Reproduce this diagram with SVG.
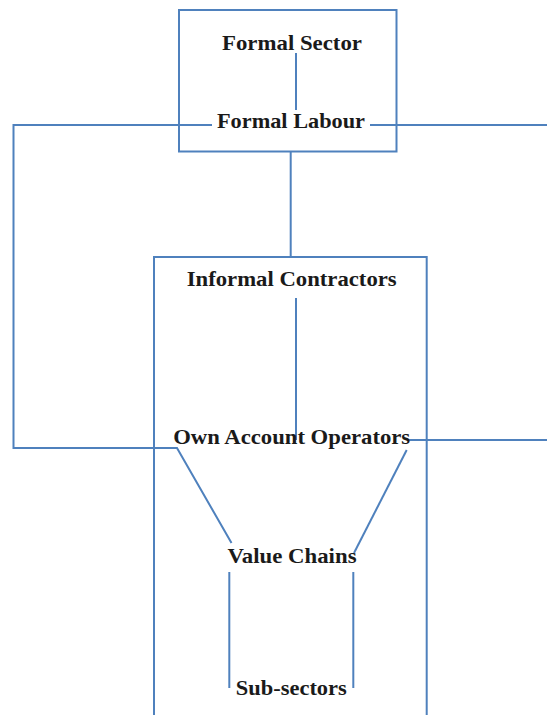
<svg xmlns="http://www.w3.org/2000/svg" width="547" height="715" viewBox="0 0 547 715">
<style>
.ln{fill:none;stroke:#4F81BD;stroke-width:2}
.t{font-family:"Liberation Serif","Times New Roman",serif;font-weight:bold;font-size:22px;fill:#1a1a1a;text-anchor:middle}
</style>
<rect width="547" height="715" fill="#ffffff"/>
<g id="connectors">
<path class="ln" d="M296,53 V110"/>
<path class="ln" d="M212,125 H13.5 V448 H177 L231.5,543"/>
<path class="ln" d="M370,125 H547"/>
<path class="ln" d="M290.7,152 V257"/>
<path class="ln" d="M296,298 V440"/>
<path class="ln" d="M408,440 H547"/>
<path class="ln" d="M406.7,450 L354,553"/>
<path class="ln" d="M229.3,572 V688"/>
<path class="ln" d="M353.3,572 V688"/>
</g>
<g id="formal-sector-box">
<rect class="ln" x="179" y="10" width="217.5" height="141.5"/>
</g>
<g id="informal-box">
<path class="ln" d="M154,715 V257 H426.7 V715"/>
</g>
<g id="formal-sector"><text class="t" x="292" y="50" textLength="140" lengthAdjust="spacingAndGlyphs">Formal Sector</text></g>
<g id="formal-labour"><text class="t" x="291" y="128" textLength="148" lengthAdjust="spacingAndGlyphs">Formal Labour</text></g>
<g id="informal-contractors"><text class="t" x="291.7" y="286" textLength="210" lengthAdjust="spacingAndGlyphs">Informal Contractors</text></g>
<g id="own-account-operators"><text class="t" x="291.7" y="444" textLength="237" lengthAdjust="spacingAndGlyphs">Own Account Operators</text></g>
<g id="value-chains"><text class="t" x="292" y="563" textLength="129" lengthAdjust="spacingAndGlyphs">Value Chains</text></g>
<g id="sub-sectors"><text class="t" x="291.3" y="695" textLength="111" lengthAdjust="spacingAndGlyphs">Sub-sectors</text></g>
</svg>
